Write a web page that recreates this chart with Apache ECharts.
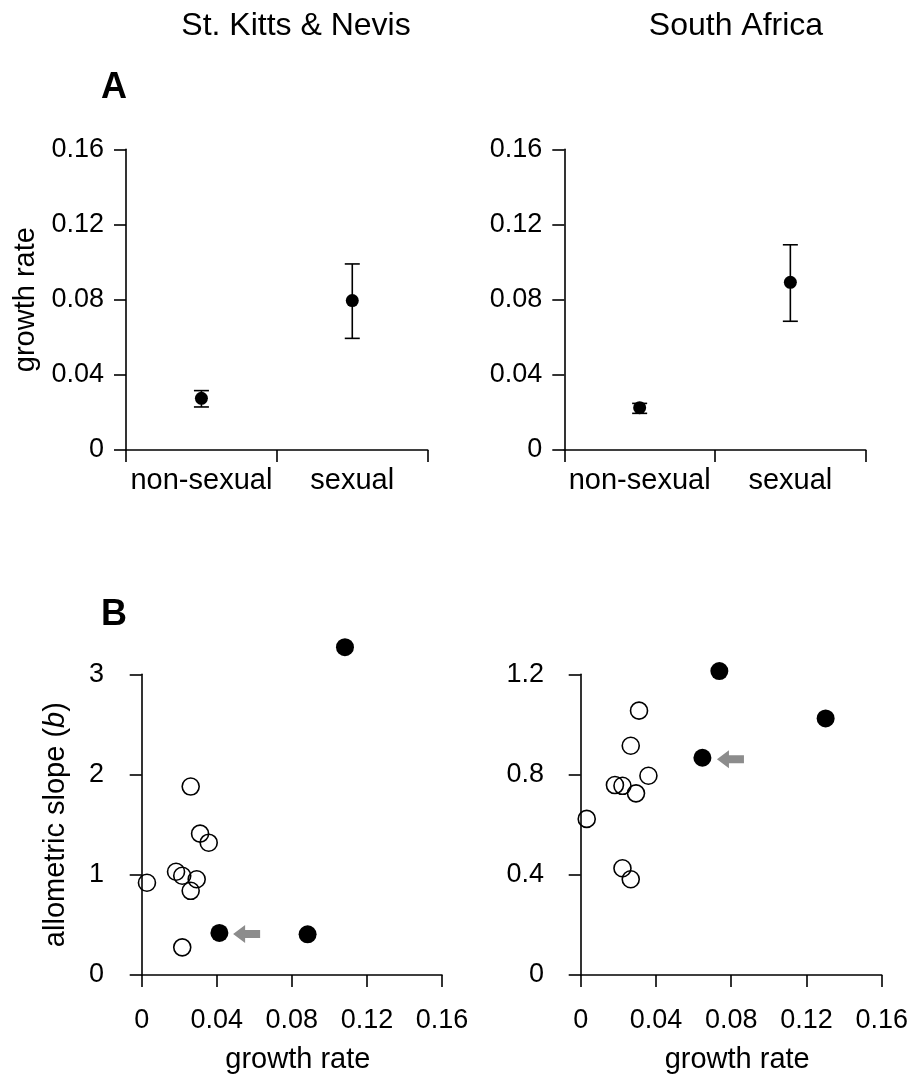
<!DOCTYPE html>
<html>
<head>
<meta charset="utf-8">
<script src="https://cdn.jsdelivr.net/npm/echarts@6/dist/echarts.min.js"></script>
<style>
html,body{margin:0;padding:0;background:#fff;}
#main{width:915px;height:1079px;}
</style>
</head>
<body>
<div id="main"></div>
<script>
// ---- data ----
const panelTitles = ['St. Kitts & Nevis', 'South Africa'];
const categories = ['non-sexual', 'sexual'];
const sknMean = [0.0275, 0.0795];
const sknLow = [0.0229, 0.0594];
const sknHigh = [0.0316, 0.0990];
const saMean = [0.0225, 0.0892];
const saLow = [0.0195, 0.0685];
const saHigh = [0.0248, 0.1092];

const sknOpenX = [0.0028, 0.0183, 0.0216, 0.0293, 0.0261, 0.0261, 0.0311, 0.0357, 0.0216];
const sknOpenY = [0.92, 1.03, 0.99, 0.955, 0.84, 1.88, 1.41, 1.32, 0.276];
const sknFilledX = [0.1083, 0.0414, 0.0884];
const sknFilledY = [3.27, 0.42, 0.406];
const sknArrow = [0.0559, 0.41];

const saOpenX = [0.0310, 0.0266, 0.0360, 0.0182, 0.0222, 0.0294, 0.0032, 0.0222, 0.0266];
const saOpenY = [1.055, 0.915, 0.795, 0.758, 0.755, 0.725, 0.623, 0.426, 0.382];
const saFilledX = [0.0737, 0.1302, 0.0647];
const saFilledY = [1.213, 1.024, 0.867];
const saArrow = [0.0796, 0.861];

const growthTicks = [0, 0.04, 0.08, 0.12, 0.16];
// ---------------

const FONT = 'Liberation Sans, Arial, Helvetica, sans-serif';
const zip = (a, b) => a.map((v, i) => [v, b[i]]);
const arrowPath = 'path://M0,9 L12,0 L12,5 L27,5 L27,13 L12,13 L12,18 Z';

const axisLine = {show: true, lineStyle: {color: '#000', width: 1.6}};
const axisTick = {show: true, inside: false, length: 12, lineStyle: {color: '#000', width: 1.6}};
const tickStyle = {color: '#000', fontSize: 27, fontFamily: FONT};
const catStyle = {color: '#000', fontSize: 29, fontFamily: FONT};
const nameStyle = {color: '#000', fontSize: 29, fontFamily: FONT};
const xNameStyle = {color: '#000', fontSize: 29, fontFamily: FONT, padding: [0, 0, 0, 12]};

function yValAxis(gridIndex, max, interval, name, nameGap, offset) {
  return {
    type: 'value', gridIndex, min: 0, max, interval, offset: offset || 0,
    axisLine, axisTick, splitLine: {show: false},
    axisLabel: Object.assign({margin: 22}, tickStyle),
    name, nameLocation: 'middle', nameGap,
    nameTextStyle: Object.assign({
      rich: {i: {fontStyle: 'italic', fontSize: 29, fontFamily: FONT, color: '#000'}}}, nameStyle)
  };
}

function errSeries(xAxisIndex, yAxisIndex, low, high) {
  return {
    type: 'custom', xAxisIndex, yAxisIndex,
    data: low.map((l, i) => [i, l, high[i]]),
    renderItem: function (params, api) {
      const x = api.value(0);
      const p1 = api.coord([x, api.value(1)]);
      const p2 = api.coord([x, api.value(2)]);
      const hw = 7.5;
      const st = {stroke: '#000', lineWidth: 1.6};
      return {type: 'group', children: [
        {type: 'line', shape: {x1: p1[0], y1: p1[1], x2: p2[0], y2: p2[1]}, style: st},
        {type: 'line', shape: {x1: p1[0] - hw, y1: p1[1], x2: p1[0] + hw, y2: p1[1]}, style: st},
        {type: 'line', shape: {x1: p2[0] - hw, y1: p2[1], x2: p2[0] + hw, y2: p2[1]}, style: st}
      ]};
    },
    z: 2
  };
}

const filled = {color: '#000', opacity: 1};
const open = {color: 'rgba(0,0,0,0)', borderColor: '#000', borderWidth: 1.6, opacity: 1};
const arrowStyle = {color: '#8c8c8c', opacity: 1};

const option = {
  backgroundColor: '#fff',
  animation: false,
  textStyle: {fontFamily: FONT},
  title: [
    {text: panelTitles[0], left: 291, top: 5, textAlign: 'center',
      textStyle: {fontSize: 32, fontWeight: 'normal', color: '#000', fontFamily: FONT}},
    {text: panelTitles[1], left: 731, top: 5, textAlign: 'center',
      textStyle: {fontSize: 32, fontWeight: 'normal', color: '#000', fontFamily: FONT}},
    {text: 'A', left: 96, top: 65, textStyle: {fontSize: 36, fontWeight: 'bold', color: '#000', fontFamily: FONT}},
    {text: 'B', left: 96, top: 592, textStyle: {fontSize: 36, fontWeight: 'bold', color: '#000', fontFamily: FONT}}
  ],
  grid: [
    {left: 126, top: 149.3, width: 301.7, height: 300.7},
    {left: 564.3, top: 149.3, width: 301.4, height: 300.7},
    {left: 141.7, top: 674.3, width: 300.3, height: 300.7},
    {left: 580.7, top: 674.3, width: 301, height: 300.7}
  ],
  xAxis: [
    {type: 'category', gridIndex: 0, data: categories, boundaryGap: true,
      axisLine, axisTick: Object.assign({alignWithLabel: false, interval: 0}, axisTick),
      axisLabel: Object.assign({margin: 16, interval: 0}, catStyle)},
    {type: 'category', gridIndex: 1, data: categories, boundaryGap: true,
      axisLine, axisTick: Object.assign({alignWithLabel: false, interval: 0}, axisTick),
      axisLabel: Object.assign({margin: 16, interval: 0}, catStyle)},
    {type: 'value', gridIndex: 2, min: growthTicks[0], max: growthTicks[4], interval: 0.04, offset: 16,
      axisLine, axisTick, splitLine: {show: false},
      axisLabel: Object.assign({margin: 16}, tickStyle),
      name: 'growth rate', nameLocation: 'middle', nameGap: 54, nameTextStyle: xNameStyle},
    {type: 'value', gridIndex: 3, min: growthTicks[0], max: growthTicks[4], interval: 0.04, offset: 16,
      axisLine, axisTick, splitLine: {show: false},
      axisLabel: Object.assign({margin: 16}, tickStyle),
      name: 'growth rate', nameLocation: 'middle', nameGap: 54, nameTextStyle: xNameStyle}
  ],
  yAxis: [
    yValAxis(0, 0.16, 0.04, 'growth rate', 86, 0),
    yValAxis(1, 0.16, 0.04, '', 86, 0),
    yValAxis(2, 3, 1, 'allometric slope ({i|b})', 56, 15.7),
    yValAxis(3, 1.2, 0.4, '', 56, 14.7)
  ],
  series: [
    errSeries(0, 0, sknLow, sknHigh),
    {type: 'scatter', xAxisIndex: 0, yAxisIndex: 0, data: sknMean.map((v, i) => [i, v]),
      symbol: 'circle', symbolSize: 13, itemStyle: filled, z: 3},
    errSeries(1, 1, saLow, saHigh),
    {type: 'scatter', xAxisIndex: 1, yAxisIndex: 1, data: saMean.map((v, i) => [i, v]),
      symbol: 'circle', symbolSize: 13, itemStyle: filled, z: 3},

    {type: 'scatter', xAxisIndex: 2, yAxisIndex: 2, data: zip(sknOpenX, sknOpenY), clip: false,
      symbol: 'circle', symbolSize: 17, itemStyle: open},
    {type: 'scatter', xAxisIndex: 2, yAxisIndex: 2, data: zip(sknFilledX, sknFilledY), clip: false,
      symbol: 'circle', symbolSize: 18, itemStyle: filled},
    {type: 'scatter', xAxisIndex: 2, yAxisIndex: 2, data: [sknArrow], clip: false,
      symbol: arrowPath, symbolSize: [27, 18], itemStyle: arrowStyle},

    {type: 'scatter', xAxisIndex: 3, yAxisIndex: 3, data: zip(saOpenX, saOpenY), clip: false,
      symbol: 'circle', symbolSize: 17, itemStyle: open},
    {type: 'scatter', xAxisIndex: 3, yAxisIndex: 3, data: zip(saFilledX, saFilledY), clip: false,
      symbol: 'circle', symbolSize: 18, itemStyle: filled},
    {type: 'scatter', xAxisIndex: 3, yAxisIndex: 3, data: [saArrow], clip: false,
      symbol: arrowPath, symbolSize: [27, 18], itemStyle: arrowStyle}
  ]
};

const chart = echarts.init(document.getElementById('main'), null, {renderer: 'canvas'});
chart.setOption(option);
</script>
</body>
</html>
